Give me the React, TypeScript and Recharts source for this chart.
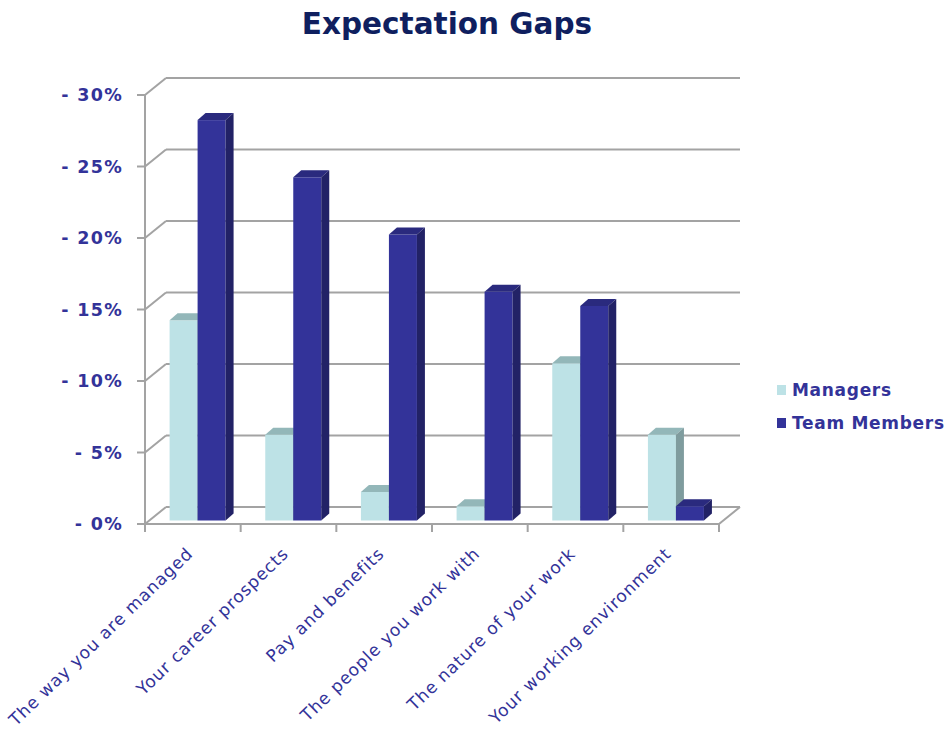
import { Bar, BarChart, CartesianGrid, XAxis, YAxis } from "recharts";

const CATEGORIES = [
  "The way you are managed",
  "Your career prospects",
  "Pay and benefits",
  "The people you work with",
  "The nature of your work",
  "Your working environment",
];
const MANAGERS = [0.14, 0.06, 0.02, 0.01, 0.11, 0.06];
const TEAM_MEMBERS = [0.28, 0.24, 0.2, 0.16, 0.15, 0.01];
const Y_TICKS = [0, 0.05, 0.1, 0.15, 0.2, 0.25, 0.3];

const data = CATEGORIES.map((name, i) => ({ name, managers: MANAGERS[i], team: TEAM_MEMBERS[i] }));

const FONT = "'DejaVu Sans', Verdana, sans-serif";
const TEXT = "#333399";
const GRID = "#a3a3a3";
const WALL_DX = 21;
const WALL_DY = 17;
// bar front face sits a little behind the front plane
const BAR_OX = 4.5;
const BAR_OY = 3.5;
const BAR_DX = 8;
const BAR_DY = 7;

const bar3d = (front: string, top: string, side: string) => (p: any) => {
  const { x, y, width: w, height: h } = p;
  if (w == null || h == null) return <g />;
  const fx = x + BAR_OX;
  const fy = y - BAR_OY;
  return (
    <g>
      <rect x={fx} y={fy} width={w} height={h} fill={front} />
      <polygon
        points={`${fx},${fy} ${fx + BAR_DX},${fy - BAR_DY} ${fx + w + BAR_DX},${fy - BAR_DY} ${fx + w},${fy}`}
        fill={top}
      />
      <polygon
        points={`${fx + w},${fy} ${fx + w + BAR_DX},${fy - BAR_DY} ${fx + w + BAR_DX},${fy + h - BAR_DY} ${fx + w},${fy + h}`}
        fill={side}
      />
    </g>
  );
};

const gridLine = (p: any) => {
  const { x1, y1, x2 } = p;
  const isFloor = p.y != null && p.height != null && Math.abs(y1 - (p.y + p.height)) < 1;
  return (
    <g key={p.key}>
      <line x1={x1} y1={y1} x2={x1 + WALL_DX} y2={y1 - WALL_DY} stroke={GRID} strokeWidth={2} />
      <line x1={x1 + WALL_DX} y1={y1 - WALL_DY} x2={x2 + WALL_DX} y2={y1 - WALL_DY} stroke={GRID} strokeWidth={2} />
      {isFloor && <line x1={x2} y1={y1} x2={x2 + WALL_DX} y2={y1 - WALL_DY} stroke={GRID} strokeWidth={2} />}
    </g>
  );
};

// label at the band centre, tick marks at the band edges
const CategoryTick = (p: any) => {
  const { x, y, payload, index, visibleTicksCount } = p;
  const half = payload?.offset;
  const ax = x + 1;
  const ay = y + 31;
  return (
    <g>
      {half != null && <line x1={x - half} y1={y} x2={x - half} y2={y + 8} stroke={GRID} strokeWidth={2} />}
      {half != null && index === visibleTicksCount - 1 && (
        <line x1={x + half} y1={y} x2={x + half} y2={y + 8} stroke={GRID} strokeWidth={2} />
      )}
      <text
        x={ax}
        y={ay}
        transform={`rotate(-44 ${ax} ${ay})`}
        textAnchor="end"
        fill={TEXT}
        fontFamily={FONT}
        fontSize={17}
        letterSpacing={0.9}
      >
        {payload.value}
      </text>
    </g>
  );
};

const LEGEND = [
  { label: "Managers", color: "#bde2e6" },
  { label: "Team Members", color: "#333399" },
];

export default function App() {
  return (
    <div style={{ position: "absolute", left: 0, top: 0, width: 948, height: 729, background: "#fff" }}>
      <div
        style={{
          position: "absolute",
          left: 0,
          width: 894,
          top: 7,
          textAlign: "center",
          fontFamily: FONT,
          fontWeight: "bold",
          fontSize: 29.5,
          color: "#0f1f5f",
        }}
      >
        Expectation Gaps
      </div>
      <BarChart
        width={948}
        height={729}
        data={data}
        margin={{ top: 95, right: 229, bottom: 0, left: 0 }}
        barCategoryGap="21%"
        barGap={0}
      >
        <CartesianGrid vertical={false} horizontal={gridLine} />
        <XAxis
          dataKey="name"
          height={205}
          interval={0}
          axisLine={{ stroke: GRID, strokeWidth: 2 }}
          tickLine={false}
          tickSize={0}
          tickMargin={0}
          tick={<CategoryTick />}
        />
        <YAxis
          width={145}
          domain={[0, 0.3]}
          ticks={Y_TICKS}
          axisLine={{ stroke: GRID, strokeWidth: 2 }}
          tickLine={{ stroke: GRID, strokeWidth: 2 }}
          tickSize={8}
          tickMargin={14}
          tick={{ fill: TEXT, fontFamily: FONT, fontWeight: "bold", fontSize: 17.5, letterSpacing: 1.3 }}
          tickFormatter={(v: number) => `- ${Math.round(v * 100)}%`}
        />
        <Bar dataKey="managers" fill="#bde2e6" shape={bar3d("#bde2e6", "#93b7b9", "#7f9c9e")} isAnimationActive={false} />
        <Bar dataKey="team" fill="#333399" shape={bar3d("#333399", "#2a2a7e", "#222266")} isAnimationActive={false} />
      </BarChart>
      <div style={{ position: "absolute", left: 777, top: 373, fontFamily: FONT }}>
        {LEGEND.map((l) => (
          <div key={l.label} style={{ display: "flex", alignItems: "center", height: 33 }}>
            <span style={{ width: 9, height: 10, background: l.color, marginRight: 6 }} />
            <span style={{ color: TEXT, fontWeight: "bold", fontSize: 17, letterSpacing: 0.7 }}>{l.label}</span>
          </div>
        ))}
      </div>
    </div>
  );
}
